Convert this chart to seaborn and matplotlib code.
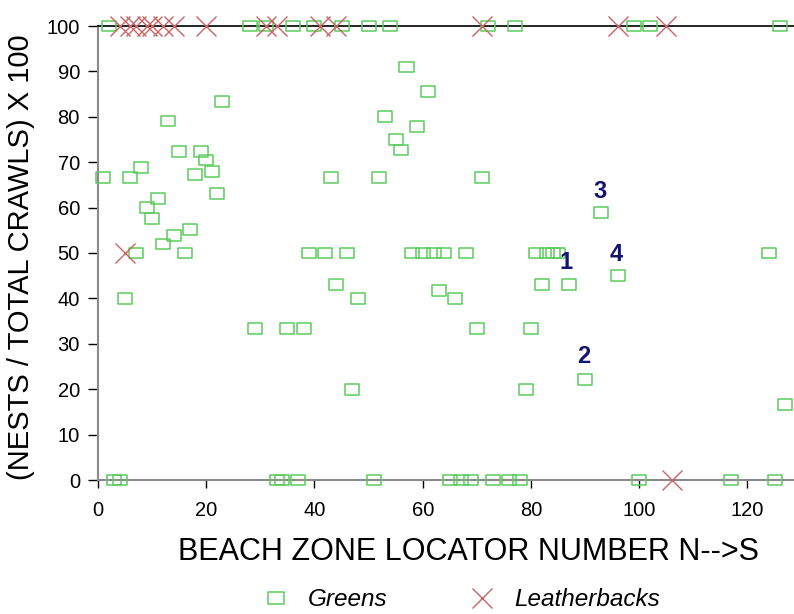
import matplotlib
matplotlib.use("Agg")
import matplotlib.pyplot as plt
from matplotlib.path import Path
from matplotlib.lines import Line2D
import pandas as pd
import seaborn as sns

# ---------------- data ----------------
greens_zone = [2, 28, 31, 36, 40, 45, 50, 54, 72, 77, 99, 102, 126,
               3, 4, 33, 34, 37, 51, 65, 67, 69, 73, 76, 78, 100, 117, 125,
               23, 13, 15, 19, 20, 8, 1, 6, 21, 18, 22, 11, 9, 10, 17, 14, 12, 7, 16, 5,
               57, 61, 53, 59, 55, 56, 52, 43, 71, 46, 58, 60, 62, 64, 68, 44, 48, 63, 66, 70, 47,
               93, 81, 83, 84, 85, 87, 82, 96, 80, 90, 79,
               124, 127, 29, 35, 38, 39, 42]
greens_ratio = [100, 100, 100, 100, 100, 100, 100, 100, 100, 100, 100, 100, 100,
                0, 0, 0, 0, 0, 0, 0, 0, 0, 0, 0, 0, 0, 0, 0,
                83.3, 79.1, 72.4, 72.4, 70.5, 68.8, 66.7, 66.7, 68.0, 67.3, 63.1, 62.0, 60.0,
                57.6, 55.2, 53.8, 52.0, 50.0, 50.0, 40.0,
                91.0, 85.5, 80.0, 77.8, 75.0, 72.7, 66.7, 66.7, 66.7, 50.0, 50.0, 50.0, 50.0,
                50.0, 50.0, 43.0, 40.0, 41.7, 40.0, 33.3, 20.0,
                58.9, 50.0, 50.0, 50.0, 50.0, 43.0, 43.0, 45.0, 33.3, 22.2, 20.0,
                50.0, 16.7, 33.3, 33.3, 33.3, 50.0, 50.0]

leather_zone = [4, 6, 7, 9, 10, 12, 14, 20, 31, 33, 41, 44, 71, 96, 105, 5, 106]
leather_ratio = [100, 100, 100, 100, 100, 100, 100, 100, 100, 100, 100, 100, 100, 100, 100, 50, 0]

x_ticks = [0, 20, 40, 60, 80, 100, 120]
y_ticks = [0, 10, 20, 30, 40, 50, 60, 70, 80, 90, 100]

note_labels = ["1", "2", "3", "4"]
note_x = [86.5, 89.7, 92.7, 95.8]
note_y = [47.8, 27.1, 63.5, 49.6]

series_names = ["Greens", "Leatherbacks"]

# ---------------- style ----------------
sns.set_style("white")
plt.rcParams["font.family"] = ["Liberation Sans", "DejaVu Sans"]
plt.rcParams["text.color"] = "black"
plt.rcParams["axes.labelcolor"] = "black"
plt.rcParams["xtick.color"] = "black"
plt.rcParams["ytick.color"] = "black"

GREEN = "#5ccc5c"
RED = "#c86464"

fig = plt.figure(figsize=(7.94, 6.14), dpi=100)
ax = fig.add_axes([98 / 794, 134 / 614, 696 / 794, 454 / 614])

rect = Path([(-1, -0.76), (1, -0.76), (1, 0.76), (-1, 0.76), (-1, -0.76)],
            [Path.MOVETO, Path.LINETO, Path.LINETO, Path.LINETO, Path.CLOSEPOLY])

gdf = pd.DataFrame({"zone": greens_zone, "ratio": greens_ratio})
ldf = pd.DataFrame({"zone": leather_zone, "ratio": leather_ratio})

sns.scatterplot(data=gdf, x="zone", y="ratio", ax=ax, marker=rect, s=102,
                facecolor="none", edgecolor=GREEN, color=GREEN, linewidth=1.1,
                legend=False, clip_on=False, zorder=3)
sns.scatterplot(data=ldf, x="zone", y="ratio", ax=ax, marker="x", s=207,
                color=RED, linewidth=1.0, legend=False, clip_on=False, zorder=4)

for lab, xv, yv in zip(note_labels, note_x, note_y):
    ax.text(xv, yv, lab, color="#141470", fontsize=17, fontweight="bold",
            ha="center", va="center", zorder=5)

ax.set_xlim(0, 128.6)
ax.set_ylim(0, 100)
ax.set_xticks(x_ticks)
ax.set_yticks(y_ticks)
ax.tick_params(axis="x", direction="out", length=6, width=1, colors="black",
               labelsize=14.5, pad=9, bottom=True)
ax.tick_params(axis="y", direction="out", length=7, width=1, colors="black",
               labelsize=14.5, pad=6, left=True)

for side in ["left", "bottom"]:
    ax.spines[side].set_color("#8a8a8a")
    ax.spines[side].set_linewidth(1.5)
ax.spines["top"].set_color("black")
ax.spines["top"].set_linewidth(1.2)
ax.spines["right"].set_visible(False)

ax.set_xlabel("BEACH ZONE LOCATOR NUMBER N-->S", fontsize=22, color="black")
ax.set_ylabel("(NESTS / TOTAL CRAWLS) X 100", fontsize=21, color="black")
ax.xaxis.set_label_coords(0.532, -0.125)
ax.yaxis.set_label_coords(-0.09, 0.49)

handles = [
    Line2D([], [], linestyle="none", marker=rect, markersize=11,
           markerfacecolor="none", markeredgecolor=GREEN, markeredgewidth=1.1),
    Line2D([], [], linestyle="none", marker="x", markersize=14,
           color=RED, markeredgewidth=1.0),
]
leg = fig.legend(handles, series_names, loc="center", bbox_to_anchor=(462 / 794, 14 / 614),
                 ncol=2, frameon=False, prop={"style": "italic", "size": 17.5},
                 handlelength=1.0, handletextpad=0.8, columnspacing=3.4)
for t in leg.get_texts():
    t.set_color("black")

fig.savefig("out.png", dpi=100)
